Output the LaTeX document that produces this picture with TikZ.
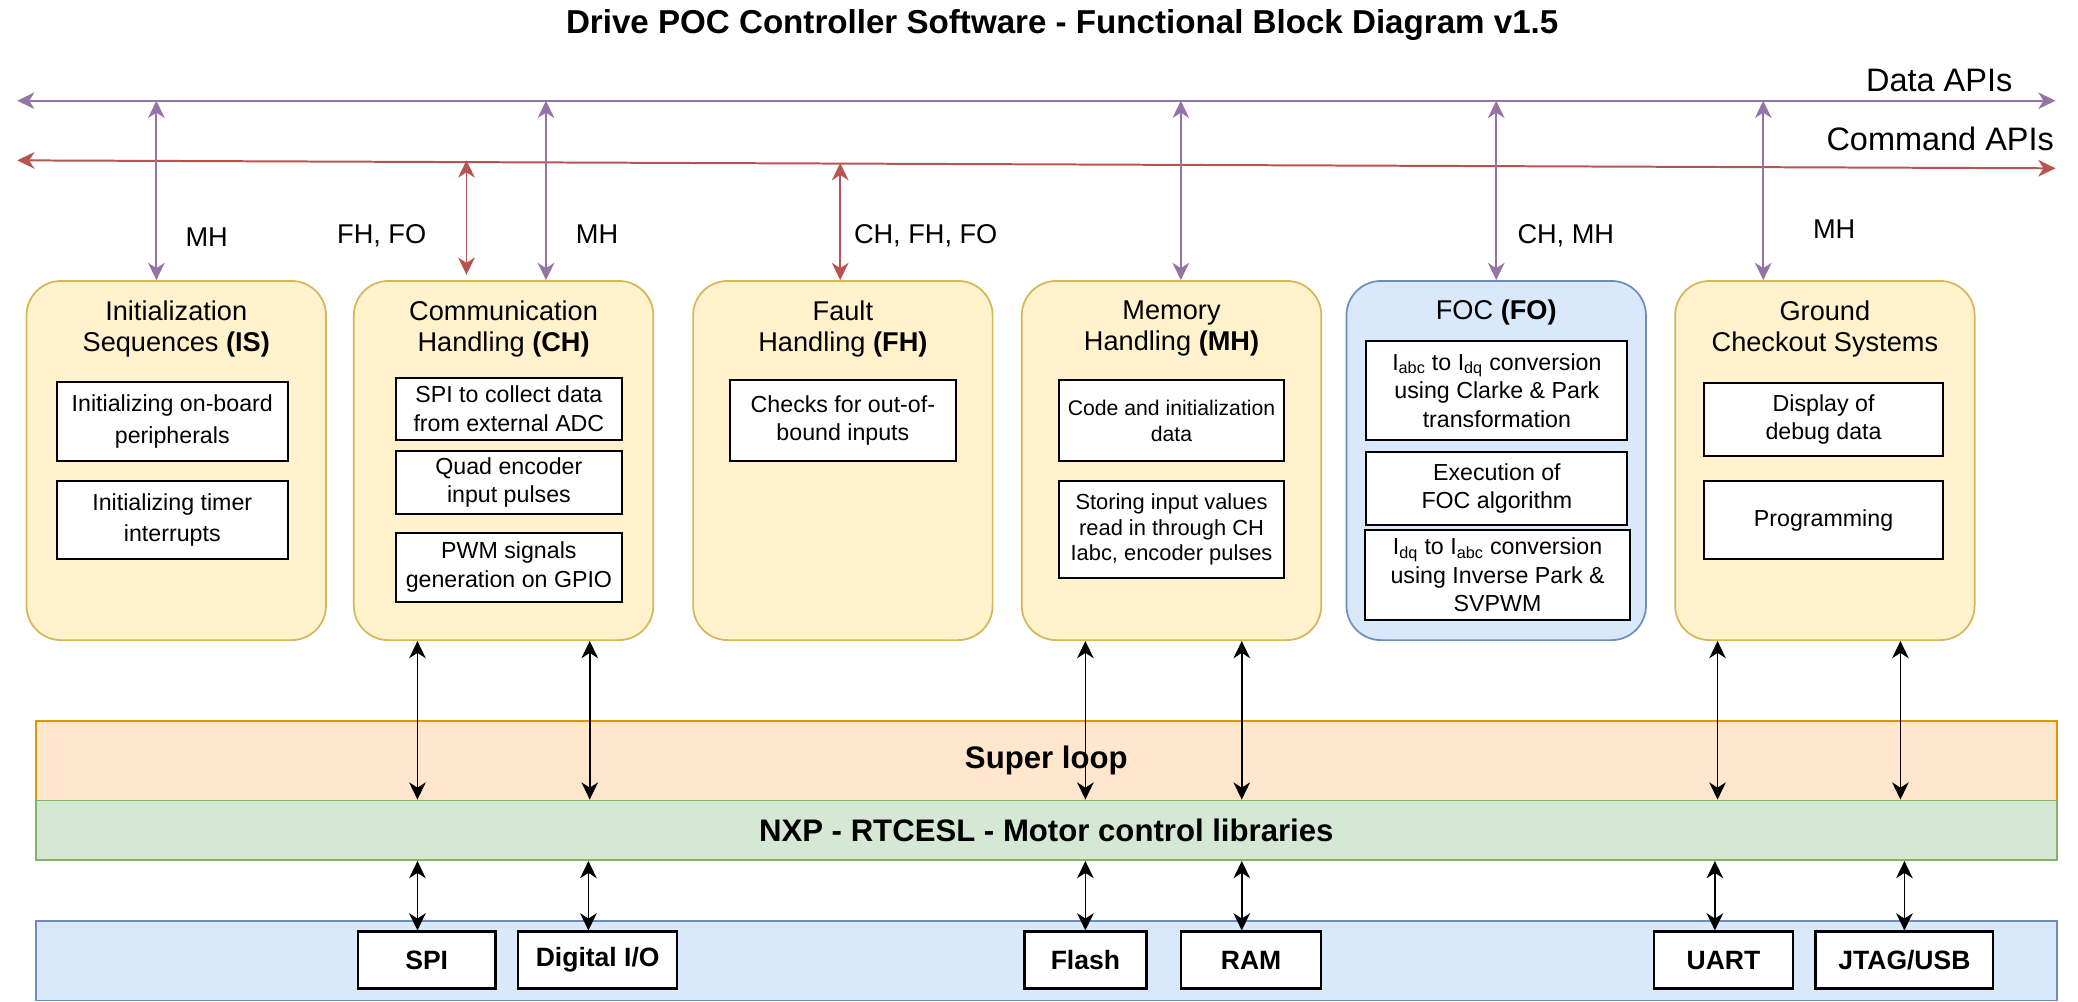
\documentclass[tikz,border=0pt]{standalone}
\usepackage{fontspec}
\setmainfont{Liberation Sans}
\usetikzlibrary{arrows.meta}
\definecolor{purp}{HTML}{9673A6}
\definecolor{redc}{HTML}{B85450}
\definecolor{yfill}{HTML}{FFF2CC}
\definecolor{ystroke}{HTML}{D6B656}
\definecolor{bfill}{HTML}{DAE8FC}
\definecolor{bstroke}{HTML}{6C8EBF}
\definecolor{ofill}{HTML}{FFE6CC}
\definecolor{ostroke}{HTML}{D79B00}
\definecolor{gfill}{HTML}{D5E8D4}
\definecolor{gstroke}{HTML}{82B366}
\newcommand\fsz[2]{\fontsize{#1}{#2}\selectfont}
\begin{document}
\begin{tikzpicture}[x=1pt,y=-1pt,
  >={Stealth[length=13pt,width=12.5pt,inset=4pt]},
  module/.style={draw=ystroke,fill=yfill,line width=1.3pt,rounded corners=26pt,
    minimum width=226pt,minimum height=271pt,inner sep=0pt},
  focmodule/.style={module,draw=bstroke,fill=bfill},
  mtitle/.style={align=center,font=\fsz{20.5}{23.5},inner sep=0pt},
  item/.style={draw=black,fill=white,line width=1.5pt,align=center,inner sep=0pt,
    font=\fsz{17.5}{21}},
  band/.style={line width=1.3pt,minimum width=1525pt,inner sep=0pt,
    font=\bfseries\fsz{23.5}{28}},
  hw/.style={draw=black,fill=white,line width=1.8pt,inner sep=0pt,
    minimum height=43pt,font=\bfseries\fsz{20}{24}},
  parr/.style={<->,draw=purp,color=purp,line width=1.5pt},
  rarr/.style={<->,draw=redc,color=redc,line width=1.5pt},
  barr/.style={<->,draw=black,line width=1.3pt},
  lbl/.style={font=\fsz{20.5}{24},inner sep=0pt,anchor=base},
  apilbl/.style={font=\fsz{24.5}{28},inner sep=0pt,anchor=base east}
]
\useasboundingbox (0,0) rectangle (1568,756);

% title
\node[font=\bfseries\fsz{25}{30},anchor=base,inner sep=0pt] (title) at (801.5,25)
  {Drive POC Controller Software - Functional Block Diagram v1.5};

% API buses
\coordinate (dL) at (13,76);
\coordinate (dR) at (1551,76);
\coordinate (cL) at (13,121);
\coordinate (cR) at (1551,127);
\draw[parr] (dL) -- (dR);
\draw[rarr] (cL) -- (cR);
\node[apilbl] (datalbl) at (1518.6,69.4) {Data APIs};
\node[apilbl] (cmdlbl) at (1550,113.7) {Command APIs};

% bands
\node[band,draw=ostroke,fill=ofill,minimum height=60pt] (superloop) at (789.5,574) {Super loop};
\node[band,draw=gstroke,fill=gfill,minimum height=45pt] (nxp) at (789.5,626.5) {NXP - RTCESL - Motor control libraries};
\node[band,draw=bstroke,fill=bfill,minimum height=60pt] (hwband) at (789.5,725) {};

% hardware boxes
\node[hw,minimum width=104pt] (spi) at (322,724.5) {SPI};
\node[hw,minimum width=120pt] (dio) at (451,724.5) {Digital I/O};
\node[hw,minimum width=92pt] (flash) at (819,724.5) {Flash};
\node[hw,minimum width=106pt] (ram) at (944,724.5) {RAM};
\node[hw,minimum width=105pt] (uart) at (1300.5,724.5) {UART};
\node[hw,minimum width=134pt] (jtag) at (1437,724.5) {JTAG/USB};

% modules
\node[module] (is) at (133,347.5) {};
\node[module] (ch) at (380,347.5) {};
\node[module] (fh) at (636,347.5) {};
\node[module] (mh) at (884,347.5) {};
\node[focmodule] (fo) at (1129,347.5) {};
\node[module] (gc) at (1377,347.5) {};

\node[mtitle] (istitle) at (133,248) {Initialization\\Sequences \textbf{(IS)}};
\node[mtitle] (chtitle) at (380,248) {Communication\\Handling \textbf{(CH)}};
\node[mtitle] (fhtitle) at (636,248) {Fault\\Handling \textbf{(FH)}};
\node[mtitle] (mhtitle) at (884,248) {Memory\\Handling \textbf{(MH)}};
\node[mtitle,anchor=base] (fotitle) at (1129,241) {FOC \textbf{(FO)}};
\node[mtitle] (gctitle) at (1377,248) {Ground\\Checkout Systems};

% items IS
\node[item,font=\fsz{17.5}{23.5},minimum width=174pt,minimum height=60pt] (is1) at (130,318) {Initializing on-board\\peripherals};
\node[item,font=\fsz{17.5}{23.5},minimum width=174pt,minimum height=59pt] (is2) at (130,392.5) {Initializing timer\\interrupts};
% items CH
\node[item,font=\fsz{17.5}{21.5},minimum width=170pt,minimum height=47pt] (ch1) at (384,308.5) {SPI to collect data\\from external ADC};
\node[item,font=\fsz{17.5}{21.5},minimum width=170pt,minimum height=48pt] (ch2) at (384,364) {Quad encoder\\input pulses};
\node[item,font=\fsz{17.5}{21.5},minimum width=170pt,minimum height=52pt] (ch3) at (384,428) {PWM signals\\generation on GPIO};
% items FH
\node[item,minimum width=170pt,minimum height=61pt] (fh1) at (636,317.5) {Checks for out-of-\\bound inputs};
% items MH
\node[item,font=\fsz{16}{19.5},minimum width=170pt,minimum height=61pt] (mh1) at (884,317.5) {Code and initialization\\data};
\node[item,font=\fsz{16.5}{19.5},minimum width=170pt,minimum height=73pt] (mh2) at (884,399.5) {Storing input values\\read in through CH\\Iabc, encoder pulses};
% items FO
\node[item,font=\fsz{17.5}{21.5},minimum width=197pt,minimum height=75pt] (fo1) at (1129.5,294.5) {I\textsubscript{abc} to I\textsubscript{dq} conversion\\using Clarke \& Park\\transformation};
\node[item,font=\fsz{17.5}{21.5},minimum width=197pt,minimum height=55pt] (fo2) at (1129.5,368.5) {Execution of\\FOC algorithm};
\node[item,font=\fsz{17.5}{21.5},minimum width=200pt,minimum height=68pt] (fo3) at (1130,434) {I\textsubscript{dq} to I\textsubscript{abc} conversion\\using Inverse Park \&\\SVPWM};
% items GC
\node[item,minimum width=180pt,minimum height=55pt] (gc1) at (1376,316.5) {Display of\\debug data};
\node[item,minimum width=180pt,minimum height=59pt] (gc2) at (1376,392.5) {Programming};

% data API connectors
\coordinate (p1) at ([xshift=-15pt]is.north);
\coordinate (p2) at ([xshift=32pt]ch.north);
\coordinate (p3) at ([xshift=7pt]mh.north);
\coordinate (p4) at (fo.north);
\coordinate (p5) at ([xshift=-46.5pt]gc.north);
\foreach \p in {p1,p2,p3,p4,p5} \draw[parr] (\p |- dL) -- (\p);

% command API connectors
\coordinate (r1) at ([xshift=-28pt,yshift=4pt]ch.north);
\coordinate (r2) at ([xshift=-2pt]fh.north);
\draw[rarr] (r1 |- cL) -- (r1);
\draw[rarr] ([yshift=-2pt]r2 |- cL) -- (r2);

% connector labels
\node[lbl] (l1) at (156,186) {MH};
\node[lbl] (l2) at (288,183.5) {FH, FO};
\node[lbl] (l3) at (450.5,183.5) {MH};
\node[lbl] (l4) at (698.5,183.5) {CH, FH, FO};
\node[lbl] (l5) at (1181.5,183.5) {CH, MH};
\node[lbl] (l6) at (1384,180) {MH};

% module to libraries connectors
\coordinate (u1) at ([xshift=-65pt]ch.south);
\coordinate (u2) at ([xshift=65pt]ch.south);
\coordinate (u3) at ([xshift=-65pt]mh.south);
\coordinate (u4) at ([xshift=53pt]mh.south);
\coordinate (u5) at ([xshift=-81pt]gc.south);
\coordinate (u6) at ([xshift=57pt]gc.south);
\foreach \u in {u1,u2,u3,u4,u5,u6} \draw[barr] (\u) -- (\u |- nxp.north);

% libraries to hardware connectors
\coordinate (h1) at ([xshift=-7pt]spi.north);
\coordinate (h2) at ([xshift=-7pt]dio.north);
\coordinate (h3) at (flash.north);
\coordinate (h4) at ([xshift=-7pt]ram.north);
\coordinate (h5) at ([xshift=-6.5pt]uart.north);
\coordinate (h6) at (jtag.north);
\foreach \h in {h1,h2,h3,h4,h5,h6} \draw[barr] (\h |- nxp.south) -- (\h);
\end{tikzpicture}
\end{document}
